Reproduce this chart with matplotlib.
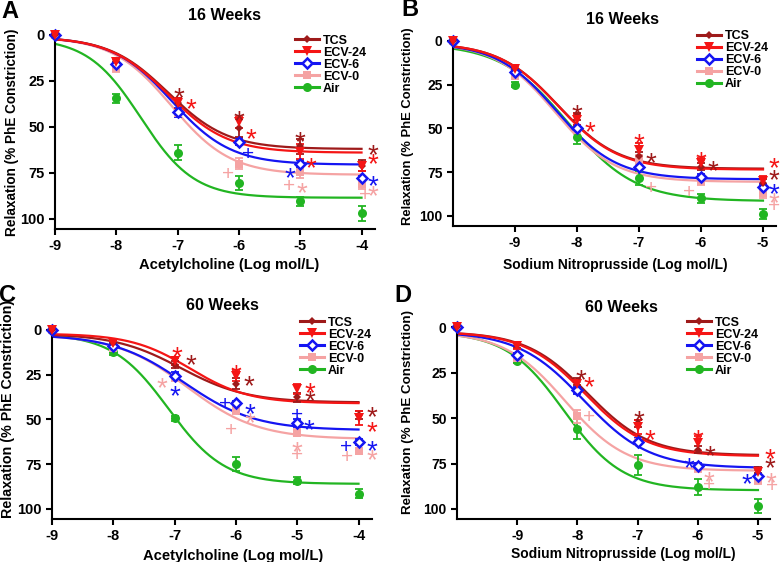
import numpy as np
import matplotlib
matplotlib.use("Agg")
import matplotlib.pyplot as plt
from matplotlib.lines import Line2D
from matplotlib import transforms

plt.rcParams["font.family"] = ["Liberation Sans", "DejaVu Sans"]
plt.rcParams["font.weight"] = "bold"

W, H = 780, 562

# ---- data -------------------------------------------------------------
groups = ["TCS", "ECV-24", "ECV-6", "ECV-0", "Air"]

log_ach = [-9, -8, -7, -6, -5, -4]
log_snp = [-10, -9, -8, -7, -6, -5]

# panel A: 16 weeks, acetylcholine
a_mean = {
    "TCS": [0, 14, 37, 50.5, 60.5, 71],
    "ECV-24": [0, 14.5, 37, 47.5, 63.5, 71.5],
    "ECV-6": [0, 16, 42, 58, 70, 78],
    "ECV-0": [0, 18, 42.5, 70, 74.5, 81],
    "Air": [0, 34.5, 64, 80.5, 90.5, 97],
}
a_sem = {
    "TCS": [1, 1.5, 3, 5, 4, 3],
    "ECV-24": [1, 1.5, 3, 3, 4, 2.5],
    "ECV-6": [1, 1.5, 2.5, 2, 2, 1.5],
    "ECV-0": [1, 2, 2, 3, 3, 3],
    "Air": [1, 2.5, 4, 4, 2.5, 4],
}
# fitted curves: bottom, top, logEC50, hill slope
a_fit = {
    "TCS": (1, 62, -7.15, 0.9),
    "ECV-24": (1, 64, -7.15, 0.9),
    "ECV-6": (1, 70.5, -7.1, 0.9),
    "ECV-0": (1, 76, -7.1, 0.9),
    "Air": (1.5, 88.5, -7.6, 1.0),
}
a_marks = [
    (-6.98, 30, "*", "TCS"), (-6.79, 35.7, "*", "ECV-24"),
    (-6.0, 42.5, "*", "TCS"), (-5.8, 52, "*", "ECV-24"), (-5.85, 64, "+", "ECV-6"),
    (-6.18, 75, "+", "ECV-0"),
    (-5.0, 54, "*", "TCS"), (-4.82, 68, "*", "ECV-24"), (-5.17, 73.7, "*", "ECV-6"),
    (-5.18, 81.5, "+", "ECV-0"), (-4.98, 81.5, "*", "ECV-0"),
    (-3.82, 61, "*", "TCS"), (-3.82, 66, "*", "ECV-24"), (-3.82, 78, "*", "ECV-6"),
    (-3.82, 83, "*", "ECV-0"), (-3.95, 86.4, "+", "ECV-0"),
]

# panel B: 16 weeks, sodium nitroprusside
b_mean = {
    "TCS": [0, 15.5, 43, 65.5, 72, 81],
    "ECV-24": [0, 16, 45, 62.5, 70, 80],
    "ECV-6": [0, 18, 50, 72, 77.5, 83.5],
    "ECV-0": [0, 20, 51, 68, 80, 87],
    "Air": [0, 25, 55, 78.5, 90, 99],
}
b_sem = {
    "TCS": [1, 1.5, 2, 2, 2, 2],
    "ECV-24": [1, 1.5, 3, 4, 3, 3],
    "ECV-6": [1, 1.5, 2, 2, 1.5, 1.5],
    "ECV-0": [1, 2, 2, 3, 2.5, 2.5],
    "Air": [1, 1.5, 4, 4, 2.5, 3],
}
b_fit = {
    "TCS": (1, 73, -8.3, 0.9),
    "ECV-24": (1, 73.5, -8.3, 0.9),
    "ECV-6": (1, 79, -8.33, 0.9),
    "ECV-0": (1, 80.5, -8.35, 0.9),
    "Air": (1.5, 91.5, -8.15, 0.8),
}
b_marks = [
    (-8.0, 38, "*", "TCS"), (-7.79, 47.5, "*", "ECV-24"),
    (-7.0, 54.4, "*", "ECV-24"), (-6.8, 65.4, "*", "TCS"), (-6.8, 83, "+", "ECV-0"),
    (-6.0, 64.4, "*", "ECV-24"), (-5.8, 69.5, "*", "TCS"), (-6.19, 85.5, "+", "ECV-0"),
    (-4.82, 68, "*", "ECV-24"), (-4.82, 74.8, "*", "TCS"), (-4.82, 82.7, "*", "ECV-6"),
    (-4.82, 88.3, "*", "ECV-0"), (-4.82, 93.6, "+", "ECV-0"),
]

# panel C: 60 weeks, acetylcholine
c_mean = {
    "TCS": [0, 7, 19.5, 30, 37.5, 47.5],
    "ECV-24": [0, 7.5, 17.5, 25.5, 33, 49],
    "ECV-6": [0, 9, 25.5, 41, 52, 62.5],
    "ECV-0": [0, 10, 26.5, 44.5, 57.5, 67.5],
    "Air": [0, 12.5, 49.3, 74.8, 84.2, 91.6],
}
c_sem = {
    "TCS": [1, 1.5, 2, 3, 2.5, 2.5],
    "ECV-24": [1, 1.5, 2, 3, 3, 4],
    "ECV-6": [1, 1.5, 2, 1.5, 2, 1.5],
    "ECV-0": [1, 1.5, 2, 2.5, 2, 1.5],
    "Air": [1, 1.5, 1.5, 4, 2, 2.5],
}
c_fit = {
    "TCS": (2, 40.5, -6.9, 0.8),
    "ECV-24": (2, 41, -6.75, 0.9),
    "ECV-6": (2.5, 56, -6.85, 0.75),
    "ECV-0": (2.5, 61, -6.8, 0.75),
    "Air": (2, 86, -7.1, 0.95),
}
c_marks = [
    (-6.97, 10.6, "*", "ECV-24"), (-6.73, 14.9, "*", "TCS"), (-7.2, 27.9, "*", "ECV-0"),
    (-7.0, 32.2, "*", "ECV-6"),
    (-6.0, 20.5, "*", "ECV-24"), (-5.79, 27, "*", "TCS"), (-6.18, 40.4, "+", "ECV-6"),
    (-5.78, 42.3, "*", "ECV-6"), (-5.78, 47.5, "*", "ECV-0"), (-6.08, 55, "+", "ECV-0"),
    (-4.8, 30.7, "*", "ECV-24"), (-4.8, 35.4, "*", "TCS"), (-5.0, 47, "+", "ECV-6"),
    (-4.81, 51.6, "*", "ECV-6"), (-5.0, 63.7, "*", "ECV-0"), (-5.0, 69.3, "+", "ECV-0"),
    (-3.78, 44.3, "*", "TCS"), (-3.78, 52.5, "*", "ECV-24"), (-4.2, 64.8, "+", "ECV-6"),
    (-3.78, 63, "*", "ECV-6"), (-3.78, 68.5, "*", "ECV-0"), (-4.19, 70.4, "+", "ECV-0"),
]

# panel D: 60 weeks, sodium nitroprusside
d_mean = {
    "TCS": [0, 10, 30, 53, 67.5, 78.5],
    "ECV-24": [0, 10.5, 31.5, 55, 64, 79.5],
    "ECV-6": [0, 15.5, 34.7, 63, 76.4, 82],
    "ECV-0": [0, 17, 49, 63, 77.5, 84],
    "Air": [0, 18.5, 56, 75.8, 88, 98.3],
}
d_sem = {
    "TCS": [1, 1.5, 2, 2, 2, 1.5],
    "ECV-24": [1, 1.5, 2.5, 4, 4, 2],
    "ECV-6": [1, 1.5, 2, 2, 1.5, 1.5],
    "ECV-0": [1, 1.5, 3.5, 2, 2, 2],
    "Air": [1, 1.5, 5.5, 5.5, 4.5, 4],
}
d_fit = {
    "TCS": (2.5, 70.5, -7.83, 0.85),
    "ECV-24": (2.5, 71, -7.87, 0.85),
    "ECV-6": (2.5, 77.5, -7.9, 0.8),
    "ECV-0": (2.5, 79, -8.2, 0.85),
    "Air": (2.5, 89.7, -8.22, 0.9),
}
d_marks = [
    (-7.95, 24.5, "*", "TCS"), (-7.81, 28.6, "*", "ECV-24"), (-7.8, 48.7, "+", "ECV-0"),
    (-6.98, 47.4, "*", "TCS"), (-6.8, 57.9, "*", "ECV-24"),
    (-6.0, 57.5, "*", "ECV-24"), (-5.8, 66.3, "*", "TCS"), (-6.15, 73, "*", "ECV-6"),
    (-5.82, 81, "*", "ECV-0"), (-5.82, 86, "+", "ECV-0"),
    (-4.8, 68, "*", "ECV-24"), (-4.8, 73, "*", "TCS"), (-5.19, 81.7, "*", "ECV-6"),
    (-4.78, 81.3, "*", "ECV-0"), (-4.77, 86.8, "+", "ECV-0"),
]

# ---- styles -----------------------------------------------------------
colors = {"TCS": "#9E1A1A", "ECV-24": "#F51515", "ECV-6": "#1515F2",
          "ECV-0": "#F5A3A3", "Air": "#22B522"}
mstyle = {
    "TCS": dict(marker="D", ms=4.5, mfc=colors["TCS"], mew=0),
    "ECV-24": dict(marker="v", ms=7.5, mfc=colors["ECV-24"], mew=0),
    "ECV-6": dict(marker="D", ms=5, mfc="white", mew=1.8),
    "ECV-0": dict(marker="s", ms=6, mfc=colors["ECV-0"], mew=0),
    "Air": dict(marker="o", ms=6.5, mfc=colors["Air"], mew=0),
}
draw_order = ["Air", "ECV-0", "ECV-6", "TCS", "ECV-24"]


def logistic(x, bottom, top, log_ec50, hill):
    return bottom + (top - bottom) / (1 + 10 ** ((log_ec50 - x) * hill))


def add_axes_px(fig, left, top, right, bottom):
    return fig.add_axes([left / W, 1 - bottom / H, (right - left) / W, (bottom - top) / H])


def draw_panel(fig, ax, conc, means, sems, fits, marks, xlim, xticks, fs):
    xs = np.linspace(conc[0], conc[-1], 300)
    for g in draw_order:
        c = colors[g]
        ax.plot(xs, logistic(xs, *fits[g]), color=c, lw=1.6, zorder=2)
        ax.errorbar(conc, means[g], yerr=sems[g], fmt="none", ecolor=c,
                    elinewidth=1.3, capsize=3.2, capthick=1.3, zorder=3)
        ax.plot(conc, means[g], ls="none", mec=c, clip_on=False, zorder=4, **mstyle[g])

    # significance symbols, glyph centre placed on (x, y)
    for x, y, sym, g in marks:
        fsz = 20 if sym == "*" else 15
        shift = -0.58 * fsz if sym == "*" else -0.35 * fsz
        tr = transforms.offset_copy(ax.transData, fig=fig, x=0, y=shift, units="points")
        ax.text(x, y, sym, transform=tr, color=colors[g], fontsize=fsz,
                fontweight="normal", ha="center", va="baseline", zorder=5)

    ax.set_xlim(*xlim)
    ax.set_ylim(105.5, -2)
    ax.set_xticks(xticks)
    ax.set_xticklabels([str(t) for t in xticks])
    ax.set_yticks([0, 25, 50, 75, 100])
    for side in ("top", "right"):
        ax.spines[side].set_visible(False)
    for side in ("left", "bottom"):
        ax.spines[side].set_linewidth(1.5)
    ax.tick_params(width=1.5, length=4.3, labelsize=fs, pad=3.2)
    for lab in ax.get_xticklabels() + ax.get_yticklabels():
        lab.set_fontweight("bold")


def add_legend(fig, ax, x_px, y_px):
    handles = [Line2D([], [], color=colors[g], lw=2.2, mec=colors[g], **mstyle[g])
               for g in groups]
    ax.legend(handles, groups, loc="upper left", frameon=False,
              bbox_to_anchor=(x_px / W, 1 - y_px / H), bbox_transform=fig.transFigure,
              borderpad=0, borderaxespad=0, handlelength=1.9, handletextpad=0.35,
              labelspacing=0.0, numpoints=1, prop={"weight": "bold", "size": 9})


fig = plt.figure(figsize=(W / 100, H / 100), dpi=100)

panels = [
    # letter, title, xlabel, data..., axes box px, xlim, xticks, legend px,
    # tick size, label size, letter / title / xlabel / ylabel centres px
    ("A", "16 Weeks", "Acetylcholine (Log mol/L)", log_ach, a_mean, a_sem, a_fit, a_marks,
     (55, 31.3, 375, 229), (-9, -3.78), log_ach, (295, 34.5), 10.5, 10.6, 9.8,
     (9.5, 11.5), (225, 16), (229, 265), (12, 132)),
    ("B", "16 Weeks", "Sodium Nitroprusside (Log mol/L)", log_snp, b_mean, b_sem, b_fit, b_marks,
     (453, 37.5, 776, 225.6), (-10, -4.79), log_snp[1:], (697, 30), 10, 10, 9.4,
     (410, 10), (623, 20), (615, 265), (408, 126)),
    ("C", "60 Weeks", "Acetylcholine (Log mol/L)", log_ach, c_mean, c_sem, c_fit, c_marks,
     (52, 326.4, 372, 518.8), (-9, -3.78), log_ach, (300, 316.5), 10.5, 10.6, 10.3,
     (7.5, 296), (222, 306), (233, 556), (8, 409)),
    ("D", "60 Weeks", "Sodium Nitroprusside (Log mol/L)", log_snp, d_mean, d_sem, d_fit, d_marks,
     (457, 323.4, 770, 519), (-10, -4.8), log_snp[1:], (687, 316.5), 10, 10, 9.6,
     (403, 295.5), (621, 308), (623, 554), (408, 412.5)),
]

for (letter, title, xlabel, conc, means, sems, fits, marks, box, xlim, xticks,
     leg_px, tick_fs, xl_fs, yl_fs, let_px, tit_px, xl_px, yl_px) in panels:
    ax = add_axes_px(fig, *box)
    draw_panel(fig, ax, conc, means, sems, fits, marks, xlim, xticks, tick_fs)
    add_legend(fig, ax, *leg_px)
    fig.text(let_px[0] / W, 1 - let_px[1] / H, letter, fontsize=17, fontweight="bold",
             ha="center", va="center")
    fig.text(tit_px[0] / W, 1 - tit_px[1] / H, title, fontsize=11.5, fontweight="bold",
             ha="center", va="center")
    fig.text(xl_px[0] / W, 1 - xl_px[1] / H, xlabel, fontsize=xl_fs, fontweight="bold",
             ha="center", va="center")
    fig.text(yl_px[0] / W, 1 - yl_px[1] / H, "Relaxation (% PhE Constriction)",
             fontsize=yl_fs, fontweight="bold", ha="center", va="center", rotation=90)

fig.savefig("out.png", dpi=100)
